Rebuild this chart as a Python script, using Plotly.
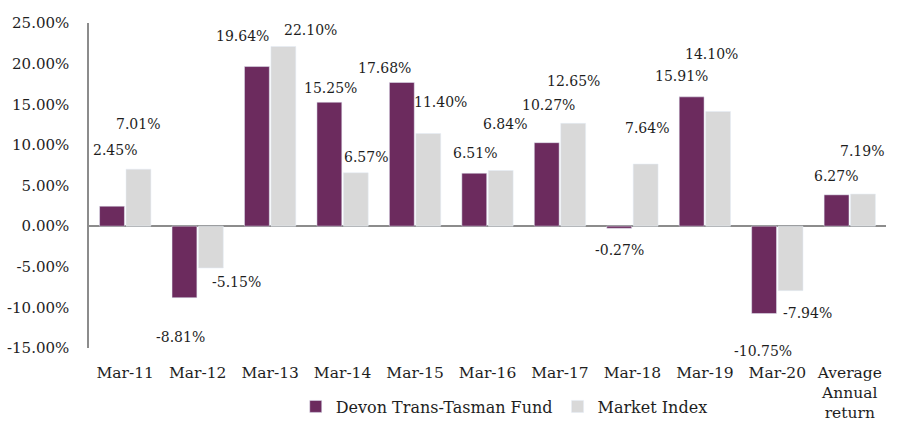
import plotly.graph_objects as go

categories = ["Mar-11", "Mar-12", "Mar-13", "Mar-14", "Mar-15", "Mar-16",
              "Mar-17", "Mar-18", "Mar-19", "Mar-20", "Average<br>Annual<br>return"]
fund_values = [2.45, -8.81, 19.64, 15.25, 17.68, 6.51, 10.27, -0.27, 15.91, -10.75, 3.85]
index_values = [7.01, -5.15, 22.10, 6.57, 11.40, 6.84, 12.65, 7.64, 14.10, -7.94, 3.95]
fund_labels = ["2.45%", "-8.81%", "19.64%", "15.25%", "17.68%", "6.51%",
               "10.27%", "-0.27%", "15.91%", "-10.75%", "6.27%"]
index_labels = ["7.01%", "-5.15%", "22.10%", "6.57%", "11.40%", "6.84%",
                "12.65%", "7.64%", "14.10%", "-7.94%", "7.19%"]
y_ticks = [-15, -10, -5, 0, 5, 10, 15, 20, 25]
y_tick_labels = ["-15.00%", "-10.00%", "-5.00%", "0.00%", "5.00%", "10.00%",
                 "15.00%", "20.00%", "25.00%"]

# label nudges (pixels) relative to each bar end
fund_dx = [3, -4, -15, 1, -18, 0, 2, 0, -10, -1, -1]
fund_dy = [56, -39, 31, 14, 14, 20, 38, -22, 21, -38, 19]
index_dx = [0, 26, 27, 10, 12, 4, 1, 2, -6, 17, -1]
index_dy = [45, -14, 17, 16, 32, 47, 42, 36, 58, -22, 43]

FONT = "DejaVu Serif"
FUND_COLOR = "#6C2B5E"
INDEX_COLOR = "#D9D9D9"
TEXT = "#1e1e1e"

fig = go.Figure()
fig.add_trace(go.Bar(x=categories, y=fund_values, name="Devon Trans-Tasman Fund",
                     marker=dict(color=FUND_COLOR)))
fig.add_trace(go.Bar(x=categories, y=index_values, name="Market Index",
                     marker=dict(color=INDEX_COLOR)))

annotations = []
for i, c in enumerate(categories):
    annotations.append(dict(x=c, y=fund_values[i], xref="x", yref="y", text=fund_labels[i],
                            showarrow=False, xshift=-13 + fund_dx[i], yshift=fund_dy[i],
                            font=dict(family=FONT, size=14, color=TEXT)))
    annotations.append(dict(x=c, y=index_values[i], xref="x", yref="y", text=index_labels[i],
                            showarrow=False, xshift=13 + index_dx[i], yshift=index_dy[i],
                            font=dict(family=FONT, size=14, color=TEXT)))

fig.update_layout(
    width=905, height=423,
    margin=dict(l=89, r=19, t=23, b=75, autoexpand=False),
    paper_bgcolor="white", plot_bgcolor="white",
    font=dict(family=FONT, size=15, color=TEXT),
    barmode="group", bargap=0.27, bargroupgap=0.06,
    showlegend=True,
    legend=dict(orientation="h", x=0.521, xanchor="center", y=-0.18, yanchor="middle",
                font=dict(family=FONT, size=16, color=TEXT), traceorder="normal"),
    annotations=annotations,
    xaxis=dict(showgrid=False, showline=False, ticks="", ticklabelstandoff=13,
               automargin=False, tickfont=dict(family=FONT, size=15.5)),
    yaxis=dict(range=[-15, 25], tickvals=y_ticks, ticktext=y_tick_labels,
               showgrid=False, showline=True, linecolor="#8c8c8c", linewidth=1.5,
               zeroline=True, zerolinecolor="#8c8c8c", zerolinewidth=1.5,
               ticks="", ticklabelstandoff=15, layer="above traces", automargin=False,
               tickfont=dict(family=FONT, size=15)),
)

fig.write_html("out.html")
